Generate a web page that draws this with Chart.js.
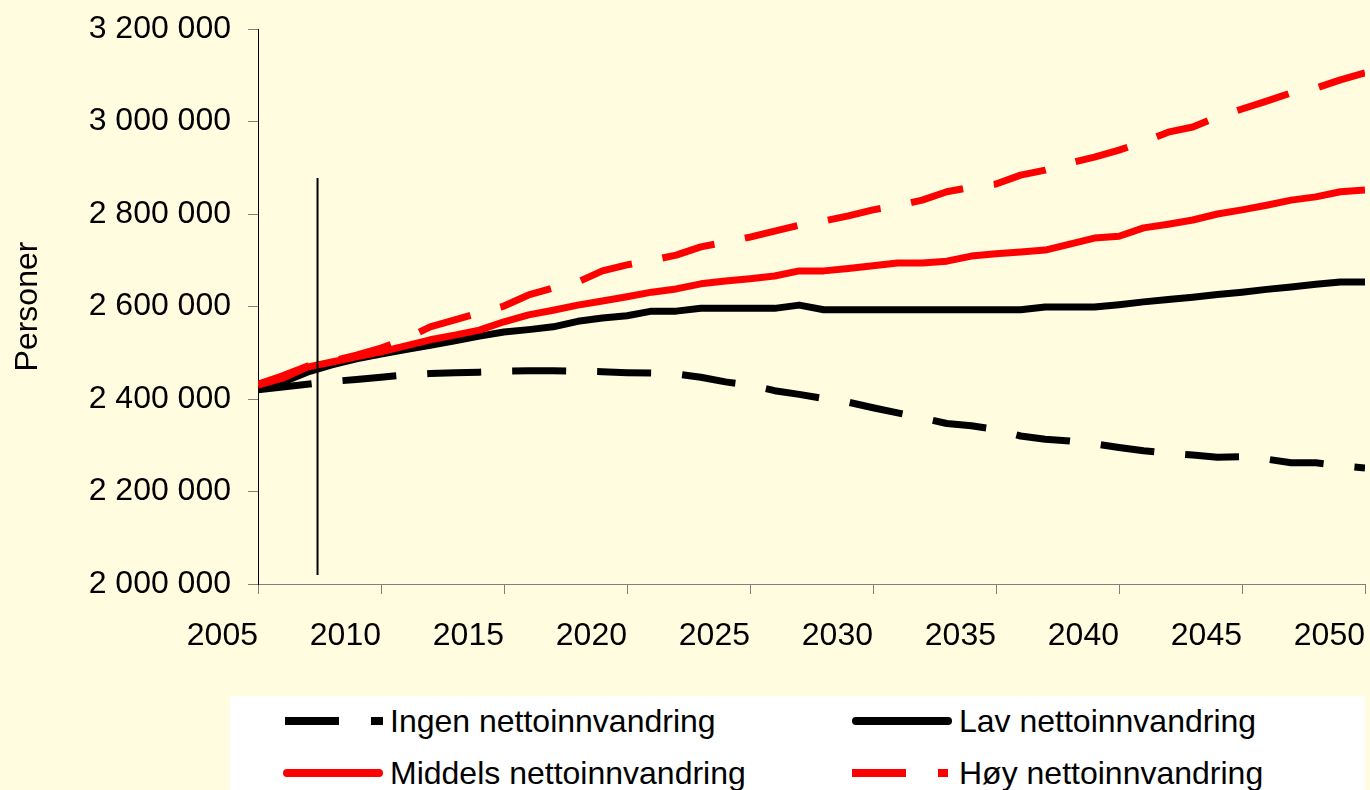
<!DOCTYPE html>
<html lang="no">
<head>
<meta charset="utf-8">
<title>Befolkning etter nettoinnvandring</title>
<script src="https://cdn.jsdelivr.net/npm/chart.js@4.4.1/dist/chart.umd.min.js"></script>
<style>
  html, body { margin: 0; padding: 0; background: #FFFCE0; }
  body { width: 1370px; height: 790px; position: relative; overflow: hidden;
         font-family: "Liberation Sans", Arial, sans-serif; }
  .chartBox { position: absolute; left: 0; top: 0; width: 1370px; height: 790px; }
  .legend { position: absolute; left: 230px; top: 696px; width: 1135px; height: 94px; background: #fff; }
  .item { position: absolute; height: 40px; display: flex; align-items: center; font-size: 32px; color: #000; white-space: nowrap; }
  .item svg { margin-right: 7px; }
</style>
</head>
<body>

<div class="chartBox"><canvas id="myChart"></canvas></div>

<!-- legend -->
<div class="legend">
  <div class="item" style="left:53px; top:5px">
    <svg width="100" height="10"><line x1="2" y1="5" x2="100" y2="5" stroke="#000" stroke-width="8" stroke-dasharray="54 32"/></svg>Ingen nettoinnvandring
  </div>
  <div class="item" style="left:622px; top:5px">
    <svg width="100" height="10"><line x1="4" y1="5" x2="96" y2="5" stroke="#000" stroke-width="8" stroke-linecap="round"/></svg>Lav nettoinnvandring
  </div>
  <div class="item" style="left:53px; top:57px">
    <svg width="100" height="10"><line x1="4" y1="5" x2="96" y2="5" stroke="#ff0000" stroke-width="8" stroke-linecap="round"/></svg>Middels nettoinnvandring
  </div>
  <div class="item" style="left:622px; top:57px">
    <svg width="100" height="10"><line x1="0" y1="5" x2="96" y2="5" stroke="#ff0000" stroke-width="8" stroke-dasharray="54 32"/></svg>Høy nettoinnvandring
  </div>
</div>

<script>
// data
const years = [2005,2006,2007,2008,2009,2010,2011,2012,2013,2014,2015,2016,2017,2018,2019,2020,
  2021,2022,2023,2024,2025,2026,2027,2028,2029,2030,2031,2032,2033,2034,2035,2036,2037,2038,2039,2040,
  2041,2042,2043,2044,2045,2046,2047,2048,2049,2050];

const ingen = [2420000,2426000,2432000,2438000,2442000,2447000,2452000,2455000,2457000,2458000,2460000,2461000,2461000,2460000,2459000,2457000,
  2456000,2454000,2447000,2437000,2430000,2418000,2410000,2401000,2393000,2381000,2370000,2359000,2347000,2342000,2334000,2320000,2313000,2309000,2303000,2295000,
  2288000,2283000,2279000,2274000,2275000,2270000,2262000,2262000,2256000,2251000];

const lav = [2420000,2436000,2458000,2474000,2487000,2497000,2507000,2516000,2526000,2536000,2545000,2550000,2556000,2568000,2575000,2580000,
  2590000,2590000,2596000,2596000,2596000,2596000,2603000,2593000,2593000,2593000,2593000,2593000,2593000,2593000,2593000,2593000,2599000,2599000,2599000,2604000,
  2610000,2615000,2620000,2626000,2631000,2637000,2642000,2648000,2653000,2653000];

const middels = [2430000,2445000,2469000,2480000,2491000,2502000,2515000,2528000,2538000,2549000,2567000,2582000,2592000,2603000,2612000,2621000,
  2631000,2638000,2649000,2655000,2660000,2666000,2677000,2677000,2682000,2688000,2694000,2694000,2698000,2709000,2714000,2718000,2722000,2735000,2748000,2752000,
  2770000,2778000,2787000,2800000,2809000,2819000,2830000,2837000,2848000,2852000];

const hoy = [2432000,2450000,2471000,2482000,2495000,2510000,2530000,2556000,2571000,2586000,2601000,2625000,2640000,2653000,2677000,2690000,
  2700000,2711000,2729000,2739000,2750000,2763000,2776000,2785000,2796000,2809000,2818000,2830000,2848000,2858000,2865000,2884000,2895000,2910000,2923000,2938000,
  2956000,2977000,2988000,3010000,3027000,3044000,3062000,3072000,3090000,3105000];

// vertical marker line
const markerYear = 2007.42;
const markerRange = [2019500, 2878000];

const yTicks = { min: 2000000, max: 3200000, step: 200000 };
const xTicks = { min: 2005, max: 2050, step: 5 };

const pts = arr => arr.map((v, i) => ({ x: years[i], y: v }));
const fmt = v => String(v).replace(/\B(?=(\d{3})+(?!\d))/g, ' ');
const FONT = '"Liberation Sans", Arial, sans-serif';

const DASH = [54, 31];

const ctx = document.getElementById('myChart');
new Chart(ctx, {
  type: 'line',
  data: {
    datasets: [
      { label: 'Ingen nettoinnvandring', data: pts(ingen), borderColor: '#000', borderWidth: 7, borderDash: DASH, borderCapStyle: 'butt', order: 4 },
      { label: 'Lav nettoinnvandring', data: pts(lav), borderColor: '#000', borderWidth: 7, order: 3 },
      { label: 'Middels nettoinnvandring', data: pts(middels), borderColor: '#ff0000', borderWidth: 7, order: 2 },
      { label: 'Høy nettoinnvandring', data: pts(hoy), borderColor: '#ff0000', borderWidth: 7, borderDash: DASH, borderCapStyle: 'butt', order: 1 },
      { label: 'marker', data: markerRange.map(v => ({ x: markerYear, y: v })), borderColor: '#000', borderWidth: 2, order: 0 }
    ]
  },
  options: {
    responsive: true,
    maintainAspectRatio: false,
    animation: false,
    devicePixelRatio: 1,
    elements: { point: { radius: 0 }, line: { tension: 0, borderJoinStyle: 'round' } },
    layout: { padding: { top: 29, right: 5, bottom: 0, left: 0 } },
    plugins: { legend: { display: false }, tooltip: { enabled: false } },
    scales: {
      x: {
        type: 'linear',
        min: xTicks.min, max: xTicks.max,
        // fixed height, drop the auto label padding so the plot reaches the right edge
        afterFit: s => { s.height = 206; s.paddingLeft = 0; s.paddingRight = 0; },
        ticks: { stepSize: xTicks.step, align: 'end', padding: 23, color: '#000',
                 font: { family: FONT, size: 32 }, callback: v => String(v) },
        grid: { drawOnChartArea: false, tickLength: 10, color: '#808080' },
        border: { color: '#808080', width: 1 }
      },
      y: {
        min: yTicks.min, max: yTicks.max,
        afterFit: s => { s.width = 258; s.paddingTop = 0; s.paddingBottom = 0; },
        ticks: { stepSize: yTicks.step, padding: 17, color: '#000',
                 font: { family: FONT, size: 32 }, callback: v => fmt(v) },
        grid: { drawOnChartArea: false, tickLength: 10, color: '#808080' },
        border: { color: '#000', width: 1 },
        title: { display: true, text: 'Personer', color: '#000', padding: { top: 9, bottom: 0 },
                 font: { family: FONT, size: 32 } }
      }
    }
  }
});
</script>
</body>
</html>
